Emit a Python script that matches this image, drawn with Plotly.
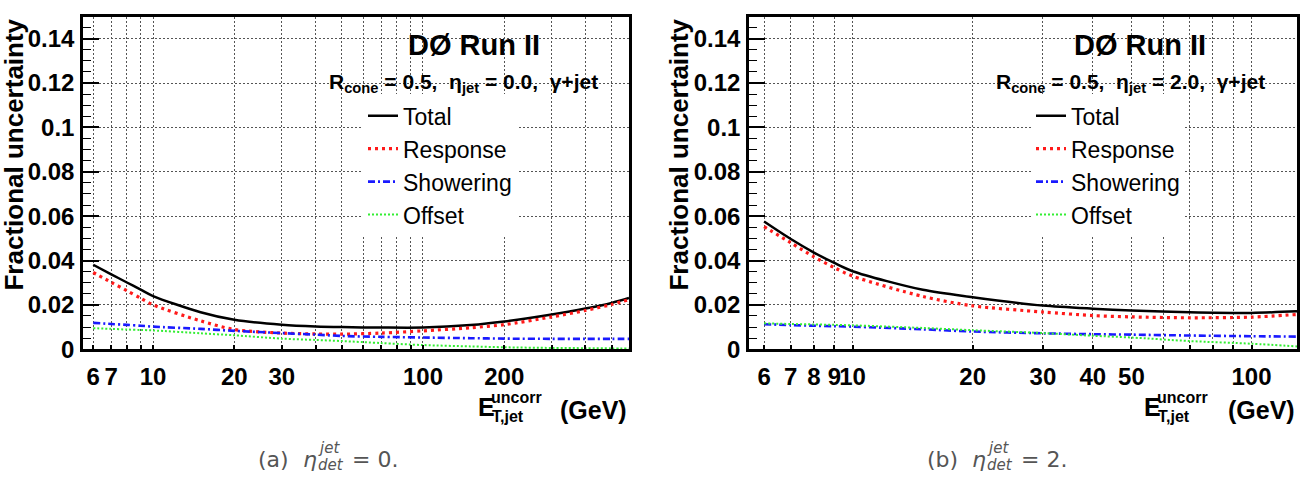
import math
import plotly.graph_objects as go

# ---------------- data ----------------
# (a) eta_det = 0
et_a = [6, 7, 8, 9, 10, 15, 20, 30, 40, 50, 70, 100, 150, 200, 300, 400, 500, 580]
total_a = [0.0381, 0.0338, 0.0301, 0.0269, 0.0240, 0.0167, 0.0133, 0.0111, 0.0103, 0.0100,
           0.0098, 0.0098, 0.0109, 0.0125, 0.0157, 0.0184, 0.0209, 0.0231]
resp_a = [0.0346, 0.0302, 0.0264, 0.0230, 0.0200, 0.0128, 0.0089, 0.0073, 0.0069, 0.0068,
          0.0073, 0.0083, 0.0097, 0.0111, 0.0146, 0.0175, 0.0202, 0.0224]
shower_a = [0.0119, 0.0114, 0.0110, 0.0106, 0.0102, 0.0092, 0.0083, 0.0073, 0.0066, 0.0060,
            0.0056, 0.0053, 0.0050, 0.0048, 0.0047, 0.0047, 0.0047, 0.0047]
offset_a = [0.0095, 0.0092, 0.0089, 0.0087, 0.0085, 0.0072, 0.0063, 0.0048, 0.0042, 0.0037,
            0.0028, 0.0019, 0.0013, 0.0009, 0.0006, 0.0005, 0.0004, 0.0004]

# (b) eta_det = 2
et_b = [6, 7, 8, 9, 10, 15, 20, 30, 40, 50, 70, 100, 130]
total_b = [0.0576, 0.0497, 0.0436, 0.0389, 0.0352, 0.0268, 0.0235, 0.0197, 0.0183, 0.0175,
           0.0167, 0.0164, 0.0171]
resp_b = [0.0553, 0.0480, 0.0417, 0.0368, 0.0330, 0.0238, 0.0196, 0.0168, 0.0152, 0.0146,
          0.0142, 0.0145, 0.0157]
shower_b = [0.0113, 0.0109, 0.0106, 0.0104, 0.0102, 0.0090, 0.0080, 0.0072, 0.0068, 0.0066,
            0.0062, 0.0059, 0.0057]
offset_b = [0.0117, 0.0114, 0.0112, 0.0110, 0.0108, 0.0096, 0.0086, 0.0073, 0.0061, 0.0053,
            0.0037, 0.0025, 0.0013]

series_names = ["Total", "Response", "Showering", "Offset"]

# axis ticks
grid_a = [6, 7, 8, 9, 10, 20, 30, 40, 50, 60, 70, 80, 90, 100, 200, 300, 400, 500]
labels_a = ["6", "7", "", "", "10", "20", "30", "", "", "", "", "", "", "100", "200", "", "", ""]
grid_b = [6, 7, 8, 9, 10, 20, 30, 40, 50, 60, 70, 80, 90, 100]
labels_b = ["6", "7", "8", "9", "10", "20", "30", "40", "50", "", "", "", "", "100"]
decades = [10, 100]
yticks = [0, 0.02, 0.04, 0.06, 0.08, 0.1, 0.12, 0.14]
ylabels = ["0", "0.02", "0.04", "0.06", "0.08", "0.1", "0.12", "0.14"]
xrange_a = [5.5, 580]
xrange_b = [5.5, 130]
yrange = [0, 0.15]

# ---------------- styling ----------------
W, H = 1308, 480
FONT = "Liberation Sans"
styles = [
    dict(color="black", width=2.5, dash="solid"),
    dict(color="#ff1a1a", width=3.2, dash="3px,4px"),
    dict(color="#1a1aff", width=2.6, dash="7px,3px,2px,3px"),
    dict(color="#33ee33", width=2.0, dash="2px,2px"),
]

def px(x):
    return x / W

def py(y):
    return 1 - y / H

fig = go.Figure()

panels = [
    (et_a, [total_a, resp_a, shower_a, offset_a], "x", "y", "legend"),
    (et_b, [total_b, resp_b, shower_b, offset_b], "x2", "y2", "legend2"),
]
for xs, ys_list, xa, ya, lg in panels:
    for name, ys, st in zip(series_names, ys_list, styles):
        fig.add_trace(go.Scatter(
            x=xs, y=ys, mode="lines", name=name, xaxis=xa, yaxis=ya, legend=lg,
            line=dict(color=st["color"], width=st["width"], dash=st["dash"],
                      shape="spline", smoothing=0.8),
        ))

ydom = [py(359), py(17)]
xdom_a = [px(83), px(629)]
xdom_b = [px(749), px(1297)]

tickfont = dict(family=FONT, size=24, color="black", weight="bold")

def xaxis_cfg(dom, rng, tv, tt, anchor):
    return dict(
        domain=dom, type="log", range=[math.log10(rng[0]), math.log10(rng[1])],
        anchor=anchor, tickmode="array", tickvals=tv, ticktext=tt, tickangle=0,
        ticks="inside", ticklen=5, tickwidth=1.5, tickcolor="black",
        showline=True, linewidth=2.5, linecolor="black", mirror=True,
        showgrid=True, gridcolor="#555555", gridwidth=1, griddash="2px,2px",
        zeroline=False, tickfont=tickfont, ticklabelstandoff=4,
    )

def yaxis_cfg(anchor):
    return dict(
        domain=ydom, range=yrange, anchor=anchor, tickmode="array",
        tickvals=yticks, ticktext=ylabels,
        ticks="inside", ticklen=16, tickwidth=1.5, tickcolor="black",
        minor=dict(ticks="inside", ticklen=8, tickwidth=1.2, tickcolor="black",
                   dtick=0.005, tick0=0, showgrid=False),
        showline=True, linewidth=2.5, linecolor="black", mirror=True,
        showgrid=True, gridcolor="#555555", gridwidth=1, griddash="2px,2px",
        zeroline=False, tickfont=tickfont, ticklabelstandoff=1,
    )

def decade_cfg(over, rng):
    return dict(
        overlaying=over, anchor="y" if over == "x" else "y2", side="bottom",
        type="log", range=[math.log10(rng[0]), math.log10(rng[1])],
        tickmode="array", tickvals=decades, ticktext=["", ""],
        ticks="inside", ticklen=11, tickwidth=1.8, tickcolor="black",
        showgrid=False, showline=False, zeroline=False, showticklabels=False,
    )

legend_common = dict(
    xanchor="left", yanchor="top", bgcolor="white", borderwidth=0,
    font=dict(family=FONT, size=23, color="black"), tracegroupgap=0,
)

fig.update_layout(
    width=W, height=H, margin=dict(l=0, r=0, t=0, b=0),
    paper_bgcolor="white", plot_bgcolor="white",
    xaxis=xaxis_cfg(xdom_a, xrange_a, grid_a, labels_a, "y"),
    yaxis=yaxis_cfg("x"),
    xaxis2=xaxis_cfg(xdom_b, xrange_b, grid_b, labels_b, "y2"),
    yaxis2=yaxis_cfg("x2"),
    xaxis3=decade_cfg("x", xrange_a),
    xaxis4=decade_cfg("x2", xrange_b),
    legend=dict(x=px(363), y=py(97), **legend_common),
    legend2=dict(x=px(1031), y=py(97), **legend_common),
    showlegend=True,
)

NB = "\u00a0"
ann = []

def add(text, x, y, size, xanchor="center", yanchor="middle", bold=True, color="black",
        family=FONT, angle=0):
    ann.append(dict(
        text=text, x=px(x), y=py(y), xref="paper", yref="paper", showarrow=False,
        xanchor=xanchor, yanchor=yanchor, textangle=angle,
        font=dict(family=family, size=size, color=color, weight="bold" if bold else "normal"),
    ))

for (cx, sx, eta, ytx, e_x, gev_x) in [(474, 463, "0.0", 14, 476, 629),
                                       (1140, 1130, "2.0", 679, 1142, 1297)]:
    add("DØ Run II", cx, 46, 29)
    add("R<sub>cone</sub>" + NB + "=" + NB + "0.5," + NB * 2 + "η<sub>jet</sub>" + NB + "=" + NB
        + eta + "," + NB * 2 + "γ+jet", sx, 85, 21)
    add("Fractional uncertainty", ytx, 17, 26, xanchor="center", yanchor="top", angle=-90)
    add("E", e_x, 418, 25, xanchor="left")
    add("uncorr", e_x + 13, 409, 16, xanchor="left")
    add("T,jet", e_x + 14, 428, 16, xanchor="left")
    add("(GeV)", gev_x, 421, 25, xanchor="right")

# captions
CAP = "DejaVu Sans"
GRAY = "#555555"
for (x0, lab, val) in [(256, "(a)", "0."), (925, "(b)", "2.")]:
    add(lab, x0, 472, 22, xanchor="left", bold=False, color=GRAY, family=CAP)
    add("<i>η</i>", x0 + 45, 472, 22, xanchor="left", bold=False, color=GRAY, family=CAP)
    add("<i>jet</i>", x0 + 60, 460, 15, xanchor="left", bold=False, color=GRAY, family=CAP)
    add("<i>det</i>", x0 + 60, 478, 15, xanchor="left", bold=False, color=GRAY, family=CAP)
    add("=" + NB + val, x0 + 94, 472, 22, xanchor="left", bold=False, color=GRAY, family=CAP)

fig.update_layout(annotations=ann)
fig.write_html("out.html")
